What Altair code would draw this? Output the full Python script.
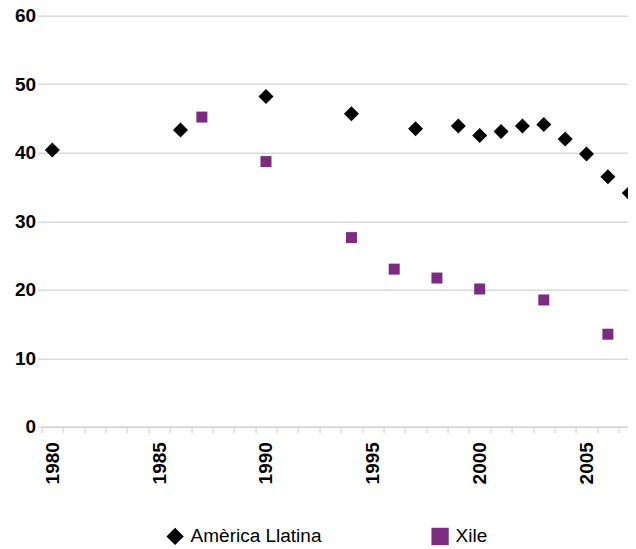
import altair as alt
import pandas as pd

# --- data ---
series = ["Amèrica Llatina", "Xile"]
years_al = [1980, 1986, 1990, 1994, 1997, 1999, 2000, 2001, 2002, 2003, 2004, 2005, 2006, 2007]
vals_al = [40.4, 43.3, 48.2, 45.7, 43.5, 43.9, 42.5, 43.1, 43.9, 44.1, 42.0, 39.8, 36.5, 34.1]
years_cl = [1987, 1990, 1994, 1996, 1998, 2000, 2003, 2006]
vals_cl = [45.2, 38.7, 27.6, 23.0, 21.7, 20.1, 18.5, 13.5]
year_bounds = [y - 0.5 for y in range(1980, 2008)]   # category boundaries (tick marks)
y_ticks = [0, 10, 20, 30, 40, 50, 60]

rows = [{"year": y, "value": v, "serie": series[0]} for y, v in zip(years_al, vals_al)]
rows += [{"year": y, "value": v, "serie": series[1]} for y, v in zip(years_cl, vals_cl)]
df = pd.DataFrame(rows)

FONT = "Liberation Sans"
PLOT_W = 586.4
BAND = 21.37
X_MAX = 1979.5 + PLOT_W / BAND

x_enc = alt.X(
    "year:Q",
    scale=alt.Scale(domain=[1979.5, X_MAX], nice=False, zero=False),
    axis=alt.Axis(
        title=None,
        values=year_bounds,
        labelAngle=-90,
        labelAlign="right",
        labelBaseline="middle",
        labelExpr="(datum.value + 0.5) % 5 === 0 ? format(datum.value + 0.5, 'd') : ''",
        labelOffset=BAND / 2,
        labelOverlap=False,
        labelFlush=False,
        labelBound=False,
        labelFont=FONT,
        labelFontSize=19,
        labelFontWeight="bold",
        labelColor="black",
        labelPadding=9,
        tickSize=6,
        tickColor="#d4d4d4",
        tickWidth=1.2,
        domainColor="#d4d4d4",
        domainWidth=1.5,
        grid=False,
    ),
)
y_enc = alt.Y(
    "value:Q",
    scale=alt.Scale(domain=[0, 60], nice=False, zero=True),
    axis=alt.Axis(
        title=None,
        values=y_ticks,
        labelFont=FONT,
        labelFontSize=19,
        labelFontWeight="bold",
        labelColor="black",
        labelPadding=2,
        tickSize=4,
        tickColor="#d9d9d9",
        tickWidth=1.5,
        domain=False,
        grid=True,
        gridColor="#d9d9d9",
        gridWidth=1.5,
    ),
)
color_enc = alt.Color(
    "serie:N",
    scale=alt.Scale(domain=series, range=["#000000", "#7B2C82"]),
    legend=alt.Legend(
        title=None,
        orient="none",
        direction="horizontal",
        legendX=124,
        legendY=511,
        labelFont=FONT,
        labelFontSize=19,
        labelColor="black",
        symbolSize=300,
        symbolStrokeWidth=0,
        columnPadding=109,
        labelOffset=6,
    ),
)
shape_enc = alt.Shape("serie:N", scale=alt.Scale(domain=series, range=["diamond", "square"]))

base = alt.Chart(df).encode(x=x_enc, y=y_enc, color=color_enc, shape=shape_enc)

layer_al = base.transform_filter(alt.datum.serie == series[0]).mark_point(
    filled=True, opacity=1, size=225, clip=False
)
layer_cl = base.transform_filter(alt.datum.serie == series[1]).mark_point(
    filled=True, opacity=1, size=121, clip=False
)

chart = alt.layer(layer_al, layer_cl).properties(
    width=PLOT_W,
    height=411,
    autosize=alt.AutoSizeParams(type="none"),
    padding={"left": 33.6, "top": 7.7, "right": 0, "bottom": 121},
).configure_view(stroke=None)

chart.save("out.html", embed_options={"renderer": "svg", "actions": False})
